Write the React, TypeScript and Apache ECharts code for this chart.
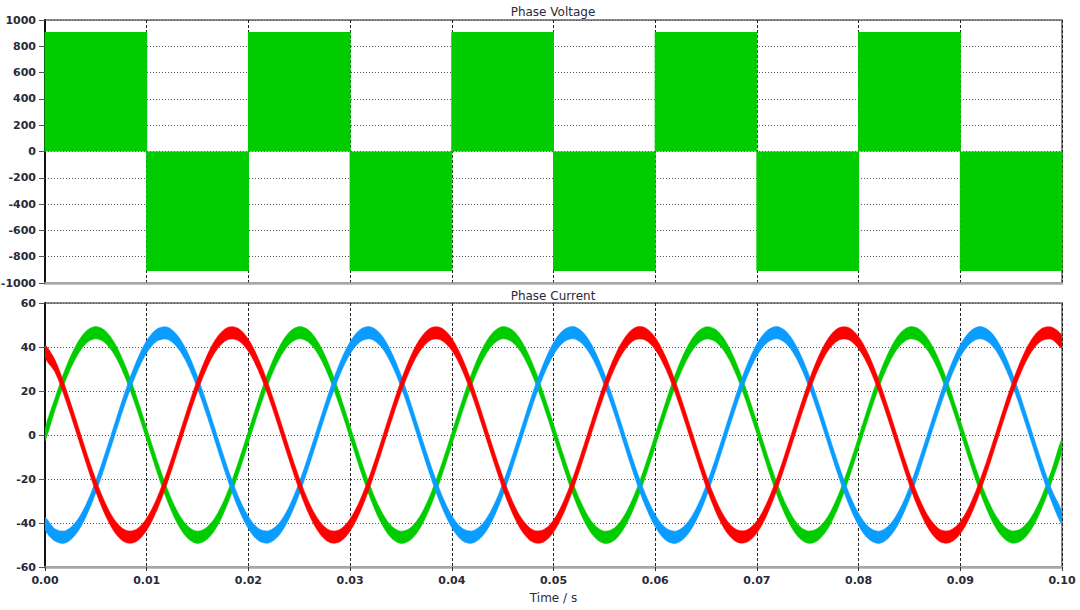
import React, { useEffect, useRef } from "react";
import * as echarts from "echarts";

// ---- Phase voltage (PWM envelope): switching edges (s) and level per interval (V)
const VOLT_EDGES = [0, 0.01, 0.02, 0.03, 0.04, 0.05, 0.06, 0.07, 0.08, 0.09, 0.1];
const VOLT_LEVELS = [905, -905, 905, -905, 905, -905, 905, -905, 905, -905];

// ---- Phase current sample times (s)
const TIME = [
  0, 0.001, 0.002, 0.003, 0.004, 0.005, 0.006, 0.007, 0.008, 0.009,
  0.01, 0.011, 0.012, 0.013, 0.014, 0.015, 0.016, 0.017, 0.018, 0.019,
  0.02, 0.021, 0.022, 0.023, 0.024, 0.025, 0.026, 0.027, 0.028, 0.029,
  0.03, 0.031, 0.032, 0.033, 0.034, 0.035, 0.036, 0.037, 0.038, 0.039,
  0.04, 0.041, 0.042, 0.043, 0.044, 0.045, 0.046, 0.047, 0.048, 0.049,
  0.05, 0.051, 0.052, 0.053, 0.054, 0.055, 0.056, 0.057, 0.058, 0.059,
  0.06, 0.061, 0.062, 0.063, 0.064, 0.065, 0.066, 0.067, 0.068, 0.069,
  0.07, 0.071, 0.072, 0.073, 0.074, 0.075, 0.076, 0.077, 0.078, 0.079,
  0.08, 0.081, 0.082, 0.083, 0.084, 0.085, 0.086, 0.087, 0.088, 0.089,
  0.09, 0.091, 0.092, 0.093, 0.094, 0.095, 0.096, 0.097, 0.098, 0.099,
  0.1,
];

// ---- Phase currents (A), centre of the ripple band
const I_GREEN = [
  0, 14.3, 27.3, 37.5, 44.2, 46.5, 44.3, 37.8, 27.6, 14.8, 0.4, -13.9, -26.9, -37.3, -44.0, -46.5, -44.4, -38.1, -28.0, -15.2,
  -0.9, 13.5, 26.6, 37.0, 43.9, 46.5, 44.6, 38.3, 28.3, 15.6, 1.3, -13.1, -26.2, -36.8, -43.8, -46.5, -44.7, -38.6, -28.7, -16.0,
  -1.8, 12.7, 25.8, 36.5, 43.6, 46.5, 44.8, 38.8, 29.0, 16.4, 2.2, -12.2, -25.5, -36.2, -43.5, -46.5, -45.0, -39.1, -29.4, -16.8,
  -2.6, 11.8, 25.1, 35.9, 43.3, 46.4, 45.0, 39.3, 29.7, 17.2, 3.1, -11.4, -24.8, -35.7, -43.2, -46.4, -45.1, -39.6, -30.1, -17.7,
  -3.5, 11.0, 24.4, 35.4, 43.0, 46.4, 45.2, 39.7, 30.4, 18.0, 3.9, -10.5, -24.0, -35.1, -42.8, -46.3, -45.3, -40.0, -30.7, -18.4,
  -4.4,
];
const I_RED = [
  38.0, 31.2, 19.0, 5.0, -9.5, -23.1, -34.4, -42.4, -46.2, -45.6, -40.5, -31.5, -19.4, -5.4, 9.1, 22.7, 34.1, 42.2, 46.2, 45.7,
  40.7, 31.8, 19.8, 5.9, -8.6, -22.3, -33.8, -42.0, -46.1, -45.7, -40.9, -32.1, -20.2, -6.3, 8.2, 21.9, 33.5, 41.8, 46.1, 45.8,
  41.2, 32.5, 20.6, 6.7, -7.8, -21.5, -33.2, -41.6, -46.0, -45.9, -41.4, -32.8, -21.0, -7.2, 7.3, 21.2, 32.9, 41.4, 46.0, 46.0,
  41.6, 33.1, 21.4, 7.6, -6.9, -20.8, -32.6, -41.3, -45.8, -46.0, -41.8, -33.4, -21.8, -8.0, 6.5, 20.4, 32.3, 41.1, 45.8, 46.1,
  41.9, 33.7, 22.1, 8.5, -6.0, -20.0, -31.9, -40.8, -45.7, -46.1, -42.1, -34.0, -22.5, -8.9, 5.6, 19.6, 31.6, 40.6, 45.6, 46.2,
  42.3,
];
const I_BLUE = [
  -40.3, -45.5, -46.3, -42.5, -34.7, -23.4, -9.9, 4.6, 18.6, 30.8, 40.1, 45.4, 46.3, 42.7, 35.0, 23.8, 10.4, -4.1, -18.2, -30.5,
  -39.8, -45.3, -46.3, -42.9, -35.3, -24.2, -10.8, 3.7, 17.8, 30.2, 39.6, 45.2, 46.4, 43.1, 35.5, 24.6, 11.2, -3.3, -17.4, -29.8,
  -39.4, -45.1, -46.4, -43.2, -35.9, -25.0, -11.6, 2.8, 17.0, 29.5, 39.2, 45.0, 46.5, 43.4, 36.1, 25.3, 12.1, -2.4, -16.6, -29.2,
  -38.9, -44.9, -46.5, -43.5, -36.4, -25.7, -12.5, 1.9, 16.2, 28.8, 38.7, 44.7, 46.5, 43.7, 36.6, 26.0, 12.9, -1.5, -15.7, -28.5,
  -38.4, -44.6, -46.5, -43.8, -36.9, -26.4, -13.3, 1.1, 15.3, 28.1, 38.2, 44.5, 46.5, 44.0, 37.2, 26.8, 13.7, -0.6, -14.9, -27.8,
  -37.9,
];
// PWM ripple band thickness (A, peak to peak)
const RIPPLE = 5.6;

const GREEN = "#00cc00";
const RED = "#ff0000";
const BLUE = "#0a9cff";
const TXT = "#2a2a38";
const FONT = "DejaVu Sans";

// Current drawn as a ripple band: one smooth polygon built from the samples via the axis scales
function bandSeries(name: string, values: number[], color: string) {
  return {
    name,
    type: "custom",
    xAxisIndex: 1,
    yAxisIndex: 1,
    clip: true,
    silent: true,
    data: TIME.map((t, i) => [t, values[i]]),
    encode: { x: 0, y: 1 },
    renderItem: (params: any, api: any) => {
      if (params.dataIndex !== 0) return null;
      const upper = TIME.map((t, i) => api.coord([t, values[i] + RIPPLE / 2]));
      const lower = TIME.map((t, i) => api.coord([t, values[i] - RIPPLE / 2])).reverse();
      return {
        type: "polygon",
        shape: { points: upper.concat(lower), smooth: 0.33 },
        style: { fill: color, stroke: color, lineWidth: 0.5 },
      };
    },
  };
}

export default function App() {
  const ref = useRef<HTMLDivElement>(null);

  useEffect(() => {
    if (!ref.current) return;
    const chart = echarts.init(ref.current, null, { renderer: "svg" });

    const voltData: number[][] = [[VOLT_EDGES[0], 0]];
    VOLT_LEVELS.forEach((lv, i) => {
      voltData.push([VOLT_EDGES[i], lv], [VOLT_EDGES[i + 1], lv]);
    });
    voltData.push([VOLT_EDGES[VOLT_EDGES.length - 1], 0]);

    const labelStyle = {
      fontFamily: FONT,
      fontSize: 11,
      fontWeight: "bold" as const,
      color: TXT,
    };
    const hGrid = { show: true, lineStyle: { color: "#555", type: [1, 2], width: 1 } };
    const vGrid = { show: true, lineStyle: { color: "#222", type: [3, 2], width: 1 } };
    const xCommon = {
      type: "value",
      min: 0,
      max: 0.1,
      interval: 0.01,
      axisLine: { show: true, onZero: false, lineStyle: { color: "#aaa", width: 2.5 } },
      splitLine: vGrid,
    };

    chart.setOption({
      animation: false,
      backgroundColor: "#ffffff",
      grid: [
        { left: 45, right: 18, top: 20, height: 263, show: true, borderColor: "#666", borderWidth: 1.5, backgroundColor: "transparent", containLabel: false, outerBoundsMode: "none" },
        { left: 45, right: 18, top: 303, height: 264, show: true, borderColor: "#666", borderWidth: 1.5, backgroundColor: "transparent", containLabel: false, outerBoundsMode: "none" },
      ],
      graphic: [
        { type: "text", x: 553, y: 12, style: { text: "Phase Voltage", align: "center", verticalAlign: "middle", font: `12px "${FONT}"`, fill: TXT } },
        { type: "text", x: 553, y: 296, style: { text: "Phase Current", align: "center", verticalAlign: "middle", font: `12px "${FONT}"`, fill: TXT } },
      ],
      xAxis: [
        {
          ...xCommon,
          gridIndex: 0,
          axisTick: { show: false },
          axisLabel: { show: false },
        },
        {
          ...xCommon,
          gridIndex: 1,
          axisTick: { show: true, length: 4, lineStyle: { color: "#333" } },
          axisLabel: { ...labelStyle, margin: 8, formatter: (v: number) => v.toFixed(2) },
          name: "Time / s",
          nameLocation: "middle",
          nameGap: 25,
          nameTextStyle: { fontFamily: FONT, fontSize: 12, color: TXT },
        },
      ],
      yAxis: [
        {
          gridIndex: 0,
          type: "value",
          min: -1000,
          max: 1000,
          interval: 200,
          axisLine: { show: true, onZero: false, lineStyle: { color: "#111", width: 2 } },
          axisTick: { show: true, length: 6, lineStyle: { color: "#555" } },
          axisLabel: { ...labelStyle, margin: 9, formatter: (v: number) => String(v) },
          splitLine: hGrid,
        },
        {
          gridIndex: 1,
          type: "value",
          min: -60,
          max: 60,
          interval: 20,
          axisLine: { show: true, onZero: false, lineStyle: { color: "#111", width: 2 } },
          axisTick: { show: true, length: 6, lineStyle: { color: "#555" } },
          axisLabel: { ...labelStyle, margin: 9, formatter: (v: number) => String(v) },
          splitLine: hGrid,
        },
      ],
      series: [
        {
          name: "Phase Voltage",
          type: "line",
          xAxisIndex: 0,
          yAxisIndex: 0,
          data: voltData,
          symbol: "none",
          lineStyle: { color: GREEN, width: 1 },
          areaStyle: { color: GREEN, opacity: 1 },
          silent: true,
        },
        bandSeries("ia", I_GREEN, GREEN),
        bandSeries("ic", I_BLUE, BLUE),
        bandSeries("ib", I_RED, RED),
      ],
    });

    return () => chart.dispose();
  }, []);

  return (
    <div
      ref={ref}
      style={{ position: "absolute", left: 0, top: 0, width: 1080, height: 610, background: "#fff" }}
    />
  );
}
